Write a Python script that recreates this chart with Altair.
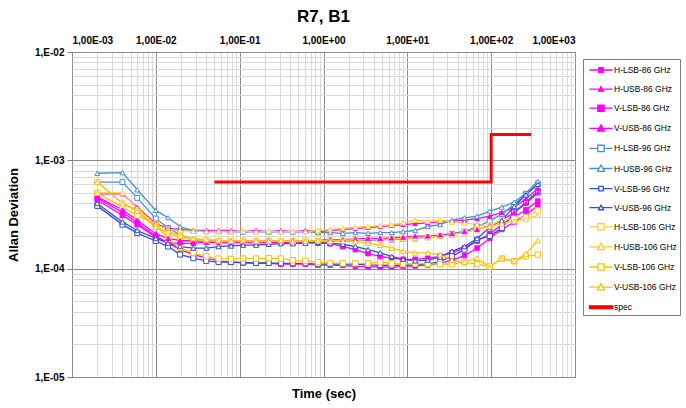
import altair as alt
import pandas as pd

# Averaging time (s)
tau = [0.002, 0.004, 0.006, 0.01, 0.014, 0.0195, 0.028, 0.04, 0.056, 0.079,
       0.11, 0.157, 0.222, 0.31, 0.43, 0.61, 0.86, 1.2, 1.7, 2.4,
       3.4, 4.75, 6.5, 8.9, 12.4, 17.5, 24.6, 34, 48, 68,
       96, 134, 188, 260, 360]

# Allan deviation per channel, in units of 1e-4
h_lsb_86 = [4.5, 3.3, 2.67, 2.0, 1.72, 1.5, 1.35, 1.25,
            1.18, 1.15, 1.13, 1.12, 1.12, 1.1, 1.1, 1.1,
            1.08, 1.08, 1.07, 1.05, 1.04, 1.04, 1.03, 1.05,
            1.06, 1.08, 1.12, 1.2, 1.32, 1.55, 1.9, 2.3, 2.7, 3.15, 3.8]
h_usb_86 = [4.9, 4.9, 3.7, 2.6, 2.35, 2.3, 2.25, 2.25,
            2.25, 2.25, 2.2, 2.25, 2.2, 2.25, 2.2, 2.25,
            2.2, 2.25, 2.3, 2.35, 2.4, 2.45, 2.5, 2.55,
            2.6, 2.65, 2.7, 2.75, 2.8, 2.9, 3.05, 3.3, 3.7, 4.4, 5.5]
v_lsb_86 = [4.3, 3.1, 2.55, 1.95, 1.75, 1.7, 1.72, 1.75,
            1.75, 1.72, 1.75, 1.72, 1.75, 1.75, 1.72, 1.75,
            1.72, 1.7, 1.6, 1.5, 1.38, 1.3, 1.25, 1.22,
            1.22, 1.25, 1.3, 1.4, 1.55, 1.8, 2.1, 2.55, 3.0, 3.5, 4.2]
v_usb_86 = [4.6, 3.5, 2.8, 2.1, 1.9, 1.82, 1.8, 1.8,
            1.8, 1.8, 1.82, 1.8, 1.82, 1.8, 1.82, 1.8,
            1.82, 1.85, 1.85, 1.88, 1.9, 1.9, 1.92, 1.95,
            2.0, 2.0, 2.05, 2.1, 2.2, 2.3, 2.5, 2.8, 3.3, 4.0, 5.0]
h_lsb_96 = [6.3, 6.3, 4.5, 2.9, 2.37, 2.05, 1.85, 1.8,
            1.8, 1.78, 1.8, 1.78, 1.8, 1.8, 1.78, 1.8,
            1.8, 1.82, 1.8, 1.85, 1.82, 1.85, 1.85, 1.88,
            1.9, 1.95, 2.0, 2.1, 2.2, 2.45, 2.75, 3.2, 3.9, 4.9, 6.1]
h_usb_96 = [7.6, 7.7, 5.35, 3.45, 2.95, 2.45, 2.25, 2.2,
            2.2, 2.2, 2.18, 2.2, 2.18, 2.2, 2.18, 2.2,
            2.15, 2.15, 2.12, 2.15, 2.12, 2.15, 2.15, 2.2,
            2.25, 2.45, 2.55, 2.8, 2.95, 3.05, 3.4, 3.7, 4.1, 5.0, 6.4]
v_lsb_96 = [3.8, 2.55, 2.13, 1.8, 1.6, 1.35, 1.25, 1.18,
            1.15, 1.15, 1.14, 1.13, 1.13, 1.12, 1.12, 1.12,
            1.1, 1.1, 1.1, 1.1, 1.08, 1.08, 1.07, 1.08,
            1.08, 1.1, 1.17, 1.3, 1.5, 1.85, 2.0, 2.37, 3.3, 4.1, 5.2]
v_usb_96 = [4.0, 2.7, 2.25, 1.9, 1.72, 1.6, 1.55, 1.55,
            1.6, 1.62, 1.65, 1.65, 1.68, 1.7, 1.7, 1.72,
            1.75, 1.72, 1.68, 1.6, 1.5, 1.4, 1.3, 1.22,
            1.18, 1.2, 1.28, 1.45, 1.6, 1.9, 2.4, 2.8, 3.75, 4.8, 6.0]
h_lsb_106 = [6.3, 4.0, 3.5, 2.45, 2.1, 1.95, 1.85, 1.82,
             1.8, 1.8, 1.82, 1.8, 1.82, 1.8, 1.8, 1.82,
             1.8, 1.82, 1.82, 1.85, 1.85, 1.85, 1.88, 1.9,
             1.92, 1.95, 2.0, 2.05, 2.15, 2.3, 2.5, 2.8, 2.9, 3.0, 3.45]
h_usb_106 = [5.0, 5.0, 3.6, 2.55, 2.3, 2.25, 2.22, 2.2,
             2.22, 2.2, 2.22, 2.2, 2.22, 2.2, 2.22, 2.2,
             2.25, 2.3, 2.35, 2.4, 2.45, 2.5, 2.55, 2.65,
             2.8, 2.75, 2.8, 2.7, 2.65, 2.55, 2.45, 2.6, 2.75, 2.85, 3.1]
v_lsb_106 = [5.0, 3.7, 3.1, 2.55, 1.87, 1.55, 1.4, 1.3,
             1.24, 1.23, 1.24, 1.24, 1.25, 1.24, 1.2, 1.18,
             1.15, 1.13, 1.12, 1.12, 1.12, 1.15, 1.12, 1.1,
             1.12, 1.1, 1.1, 1.1, 1.15, 1.1, 1.05, 1.24, 1.17, 1.3, 1.35]
v_usb_106 = [6.3, 4.0, 3.4, 2.4, 2.2, 2.0, 1.9, 1.85,
             1.82, 1.8, 1.82, 1.8, 1.8, 1.82, 1.8, 1.8,
             1.82, 1.8, 1.8, 1.78, 1.72, 1.65, 1.55, 1.45,
             1.4, 1.4, 1.35, 1.2, 1.15, 1.25, 1.04, 1.24, 1.17, 1.37, 1.82]

# Specification limit
spec_tau = [0.05, 100, 100, 300]
spec_adev = [6.32e-4, 6.32e-4, 1.73e-3, 1.73e-3]

series_names = ["H-LSB-86 GHz", "H-USB-86 GHz", "V-LSB-86 GHz", "V-USB-86 GHz",
                "H-LSB-96 GHz", "H-USB-96 GHz", "V-LSB-96 GHz", "V-USB-96 GHz",
                "H-LSB-106 GHz", "H-USB-106 GHz", "V-LSB-106 GHz", "V-USB-106 GHz"]
series_values = [h_lsb_86, h_usb_86, v_lsb_86, v_usb_86,
                 h_lsb_96, h_usb_96, v_lsb_96, v_usb_96,
                 h_lsb_106, h_usb_106, v_lsb_106, v_usb_106]
spec_name = "spec"

# Axis ticks and labels
x_ticks = [1e-3, 1e-2, 1e-1, 1e0, 1e1, 1e2, 1e3]
x_tick_labels = ["1,00E-03", "1,00E-02", "1,00E-01", "1,00E+00", "1,00E+01", "1,00E+02", "1,00E+03"]
y_ticks = [1e-5, 1e-4, 1e-3, 1e-2]
y_tick_labels = ["1,E-05", "1,E-04", "1,E-03", "1,E-02"]
x_minor = [m * 10.0 ** e for e in range(-3, 3) for m in range(2, 10)]
y_minor = [m * 10.0 ** e for e in range(-5, -2) for m in range(2, 10)]

# Styles
stroke_colors = ["#FF00FF"] * 4 + ["#4A90D0", "#4A90D0", "#3550C8", "#3550C8",
                                   "#FFCC33", "#FFCC33", "#FFC000", "#FFC000"] + ["#FF0000"]
fill_colors = ["#FF00FF"] * 4 + ["#FFFFFF"] * 8 + ["#FF0000"]
marker_sizes = [20, 30, 32, 45, 55, 110, 20, 25, 65, 90, 65, 90]
square_series = [n for n in series_names if "LSB" in n]
triangle_series = [n for n in series_names if "USB" in n]

# Legend glyphs: line with marker, in the unit box of the symbol
SQ = "M-1.65,0H-0.45M0.45,0H1.65M-0.45,-0.45H0.45V0.45H-0.45Z"
SQ_S = "M-1.65,0H-0.32M0.32,0H1.65M-0.32,-0.32H0.32V0.32H-0.32Z"
TRI = "M-1.65,0H-0.28M0.28,0H1.65M0,-0.5L0.5,0.4H-0.5Z"
TRI_S = "M-1.65,0H-0.2M0.2,0H1.65M0,-0.36L0.36,0.29H-0.36Z"
LINE = "M-1.65,-0.2H1.65V0.2H-1.65Z"
legend_paths = [SQ_S, TRI_S, SQ, TRI, SQ, TRI, SQ_S, TRI_S, SQ, TRI, SQ, TRI, LINE]

legend_names = series_names + [spec_name]

rows = []
for name, vals in zip(series_names, series_values):
    for t, v in zip(tau, vals):
        rows.append({"tau": t, "adev": v * 1e-4, "series": name})
df = pd.DataFrame(rows)
spec_df = pd.DataFrame({"tau": spec_tau, "adev": spec_adev,
                        "series": spec_name, "step": list(range(len(spec_tau)))})

FONT = "Liberation Sans"
x_scale = alt.Scale(type="log", domain=[1e-3, 1e3], nice=False)
y_scale = alt.Scale(type="log", domain=[1e-5, 1e-2], nice=False)
stroke_scale = alt.Scale(domain=legend_names, range=stroke_colors)
fill_scale = alt.Scale(domain=legend_names, range=fill_colors)
size_scale = alt.Scale(domain=series_names, range=marker_sizes)

x_expr = "[" + ",".join(f"'{s}'" for s in x_tick_labels) + "][round(log(datum.value)/LN10)+3]"
y_expr = "[" + ",".join(f"'{s}'" for s in y_tick_labels) + "][round(log(datum.value)/LN10)+5]"

legend = alt.Legend(
    title=None, orient="none", legendX=511, legendY=7, direction="vertical",
    padding=3, fillColor="white", strokeColor="#808080",
    labelFont=FONT, labelFontSize=8.5, labelColor="black",
    symbolSize=196, symbolStrokeWidth=1.3, symbolOpacity=1,
    rowPadding=6.1, labelOffset=5, symbolOffset=7,
)

stroke_enc = alt.Stroke("series:N", scale=stroke_scale, legend=legend)
fill_enc = alt.Fill("series:N", scale=fill_scale, legend=legend)

# Legend-only layer (no visible marks)
legend_layer = alt.Chart(df).transform_filter("false").mark_point(opacity=1).encode(
    x=alt.X("tau:Q", scale=x_scale, axis=None),
    y=alt.Y("adev:Q", scale=y_scale, axis=None),
    shape=alt.Shape("series:N", scale=alt.Scale(domain=legend_names, range=legend_paths), legend=legend),
    stroke=stroke_enc,
    fill=fill_enc,
)

# Series lines, carrying the minor grid and the bottom title
lines = alt.Chart(df).mark_line(strokeWidth=1.3).encode(
    x=alt.X("tau:Q", scale=x_scale, axis=alt.Axis(
        orient="bottom", values=x_minor, grid=True, gridColor="#D9D9D9",
        labels=False, ticks=False, domain=False, title="Time (sec)",
        titleFont=FONT, titleFontSize=13, titleFontWeight="bold", titlePadding=10)),
    y=alt.Y("adev:Q", scale=y_scale, axis=alt.Axis(
        orient="right", values=y_minor, grid=True, gridColor="#D9D9D9",
        labels=False, ticks=False, domain=False, title=None)),
    stroke=stroke_enc,
)

# Square markers, carrying the labelled decade axes
squares = alt.Chart(df).transform_filter(
    alt.FieldOneOfPredicate(field="series", oneOf=square_series)
).mark_point(shape="square", opacity=1, strokeWidth=1).encode(
    x=alt.X("tau:Q", scale=x_scale, axis=alt.Axis(
        orient="top", values=x_ticks, grid=True, gridColor="#8C8C8C",
        labelExpr=x_expr, labelFont=FONT, labelFontSize=10, labelFontWeight="bold",
        labelColor="black", ticks=False, labelPadding=7, domain=False, title=None)),
    y=alt.Y("adev:Q", scale=y_scale, axis=alt.Axis(
        orient="left", values=y_ticks, grid=True, gridColor="#8C8C8C",
        labelExpr=y_expr, labelFont=FONT, labelFontSize=10, labelFontWeight="bold",
        labelColor="black", ticks=True, tickSize=5, tickColor="#808080", labelPadding=3,
        domain=False, title="Allan Deviation", titleFont=FONT, titleFontSize=13,
        titleFontWeight="bold", titlePadding=14)),
    stroke=stroke_enc,
    fill=fill_enc,
    size=alt.Size("series:N", scale=size_scale, legend=None),
)

triangles = alt.Chart(df).transform_filter(
    alt.FieldOneOfPredicate(field="series", oneOf=triangle_series)
).mark_point(shape="triangle-up", opacity=1, strokeWidth=1).encode(
    x=alt.X("tau:Q", scale=x_scale, axis=None),
    y=alt.Y("adev:Q", scale=y_scale, axis=None),
    stroke=stroke_enc,
    fill=fill_enc,
    size=alt.Size("series:N", scale=size_scale, legend=None),
)

spec = alt.Chart(spec_df).mark_line(strokeWidth=3).encode(
    x=alt.X("tau:Q", scale=x_scale, axis=None),
    y=alt.Y("adev:Q", scale=y_scale, axis=None),
    stroke=stroke_enc,
    order="step:Q",
)

chart = alt.layer(legend_layer, lines, squares, triangles, spec).resolve_axis(
    x="independent", y="independent"
).properties(
    width=503, height=325,
    title=alt.TitleParams("R7, B1", font=FONT, fontSize=17, fontWeight="bold",
                          anchor="middle", color="black", offset=9),
    autosize=alt.AutoSizeParams(type="none"),
    padding={"left": 72, "top": 52, "right": 111, "bottom": 31},
).configure_view(stroke="#808080", strokeWidth=1)

chart.save("out.html", embed_options={"renderer": "svg", "actions": False})
